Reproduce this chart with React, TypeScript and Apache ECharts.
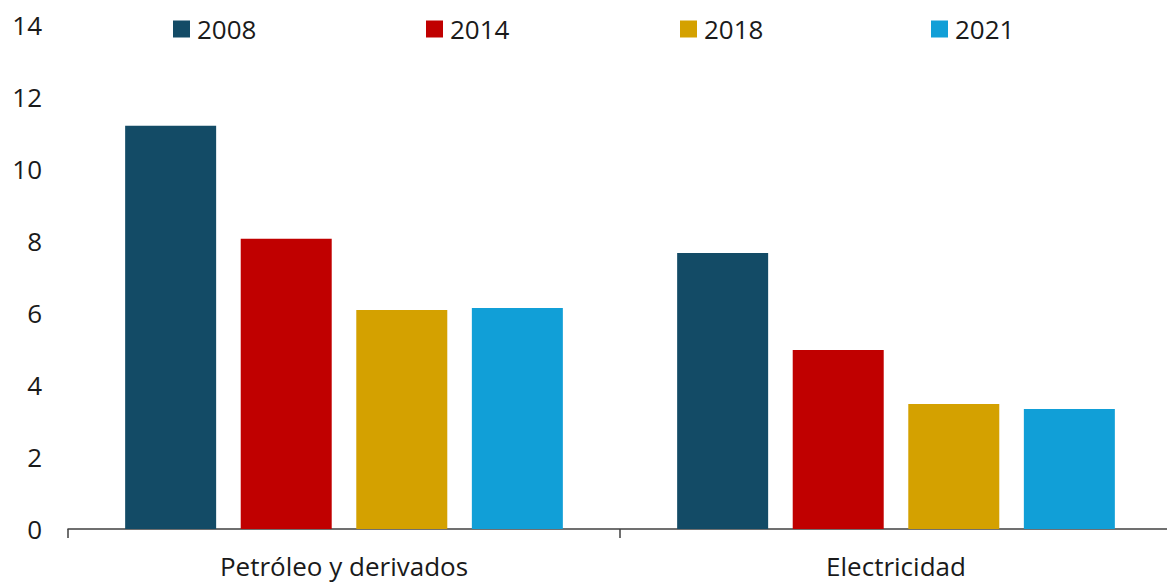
import React, { useEffect, useRef } from "react";
import * as echarts from "echarts";

const categories = ["Petróleo y derivados", "Electricidad"];
const years = ["2008", "2014", "2018", "2021"];
const values2008 = [11.2, 7.67];
const values2014 = [8.06, 4.97];
const values2018 = [6.08, 3.47];
const values2021 = [6.14, 3.33];
const seriesValues = [values2008, values2014, values2018, values2021];
const colors = ["#134B66", "#C00000", "#D4A100", "#119FD7"];
const yTicks = { min: 0, max: 14, interval: 2 };

const legendLeft = [173, 426, 680, 931];
const FONT = "'Open Sans', sans-serif";
const TEXT = "#1a1a1a";

export default function App() {
  const ref = useRef<HTMLDivElement>(null);
  useEffect(() => {
    if (!ref.current) return;
    const chart = echarts.init(ref.current, undefined, { renderer: "svg" });
    chart.setOption({
      animation: false,
      backgroundColor: "#ffffff",
      textStyle: { fontFamily: FONT },
      legend: years.map((y, i) => ({
        data: [y],
        left: legendLeft[i],
        top: 16,
        itemWidth: 17,
        itemHeight: 17,
        icon: "rect",
        padding: 0,
        textStyle: { fontFamily: FONT, fontSize: 26, color: TEXT, padding: [0, 0, 0, 2] },
      })),
      grid: {
        left: 68,
        top: 25,
        width: 1104,
        height: 504,
        containLabel: false,
        outerBoundsMode: "none",
      },
      xAxis: {
        type: "category",
        data: categories,
        axisLine: { show: true, lineStyle: { color: "#404040", width: 1.5 } },
        axisTick: { show: true, alignWithLabel: false, interval: 0, length: 9, lineStyle: { color: "#404040", width: 1.5 } },
        axisLabel: { fontFamily: FONT, fontSize: 26, color: TEXT, margin: 24, interval: 0 },
        splitLine: { show: false },
      },
      yAxis: {
        type: "value",
        min: yTicks.min,
        max: yTicks.max,
        interval: yTicks.interval,
        axisLine: { show: false },
        axisTick: { show: false },
        splitLine: { show: false },
        axisLabel: { fontFamily: FONT, fontSize: 26, color: TEXT, margin: 26 },
      },
      series: years.map((y, i) => ({
        name: y,
        type: "bar",
        data: seriesValues[i],
        itemStyle: { color: colors[i] },
        barWidth: 91,
        barGap: "27%",
      })),
    });
    return () => chart.dispose();
  }, []);
  return (
    <div
      ref={ref}
      style={{ position: "fixed", left: 0, top: 0, width: 1167, height: 583 }}
    />
  );
}
